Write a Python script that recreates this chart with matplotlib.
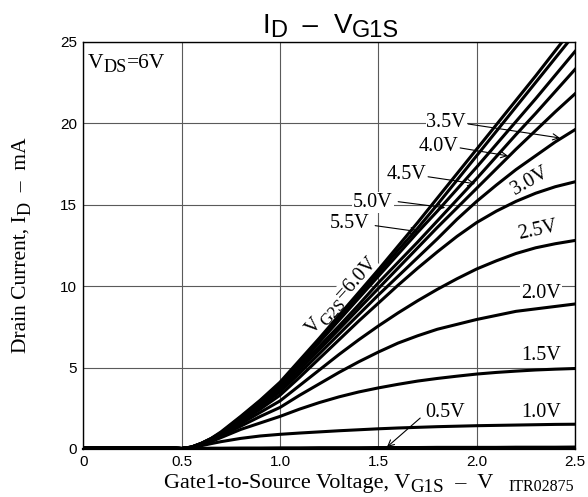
import numpy as np
import matplotlib
matplotlib.use("Agg")
import matplotlib.pyplot as plt
from matplotlib.transforms import offset_copy


# ---------------------------------------------------------
# data
# ---------------------------------------------------------
vg1s = [0, 0.45, 0.5, 0.55, 0.6, 0.65, 0.7, 0.8, 0.9,
        1.0, 1.1, 1.2, 1.3, 1.4, 1.5, 1.6, 1.7, 1.8, 1.9,
        2.0, 2.1, 2.2, 2.3, 2.4, 2.5]

id_60 = [0.06, 0.06, 0.03, 0.12, 0.35, 0.65, 1.05, 2.0, 3.0,
         4.1, 5.45, 6.8, 8.2, 9.6, 11.0, 12.45, 13.9, 15.4, 16.9,
         18.4, 19.9, 21.4, 22.9, 24.45, 26.0]
id_55 = [0.06, 0.06, 0.03, 0.12, 0.35, 0.64, 1.0, 1.95, 2.95,
         4.0, 5.3, 6.65, 8.0, 9.4, 10.8, 12.2, 13.55, 15.0, 16.5,
         18.0, 19.5, 21.0, 22.5, 24.0, 25.5]
id_50 = [0.06, 0.06, 0.03, 0.12, 0.34, 0.63, 0.98, 1.9, 2.9,
         3.9, 5.2, 6.55, 7.9, 9.25, 10.6, 11.95, 13.3, 14.6, 15.95,
         17.3, 18.7, 20.1, 21.5, 22.95, 24.4]
id_45 = [0.06, 0.06, 0.03, 0.11, 0.33, 0.62, 0.96, 1.85, 2.8,
         3.8, 5.05, 6.3, 7.55, 8.85, 10.2, 11.45, 12.7, 14.0, 15.3,
         16.6, 17.95, 19.3, 20.6, 21.95, 23.3]
id_40 = [0.06, 0.06, 0.03, 0.11, 0.32, 0.6, 0.94, 1.8, 2.7,
         3.65, 4.85, 6.1, 7.35, 8.6, 9.85, 11.1, 12.35, 13.6, 14.8,
         16.0, 17.2, 18.4, 19.55, 20.7, 21.8]
id_35 = [0.06, 0.06, 0.03, 0.11, 0.31, 0.58, 0.92, 1.72, 2.6,
         3.5, 4.65, 5.85, 7.05, 8.25, 9.45, 10.6, 11.75, 12.9, 14.1,
         15.2, 16.2, 17.15, 18.0, 18.85, 19.6]
id_30 = [0.06, 0.06, 0.03, 0.11, 0.30, 0.56, 0.9, 1.65, 2.45,
         3.3, 4.4, 5.55, 6.7, 7.85, 8.95, 10.05, 11.1, 12.1, 13.05,
         13.9, 14.6, 15.2, 15.7, 16.1, 16.4]
id_25 = [0.06, 0.06, 0.03, 0.1, 0.29, 0.54, 0.85, 1.55, 2.25,
         2.95, 3.9, 4.85, 5.8, 6.7, 7.55, 8.35, 9.1, 9.8, 10.45,
         11.05, 11.55, 12.0, 12.35, 12.6, 12.8]
id_20 = [0.06, 0.06, 0.03, 0.1, 0.28, 0.5, 0.8, 1.4, 2.0,
         2.55, 3.3, 4.0, 4.7, 5.35, 5.95, 6.5, 6.95, 7.35, 7.65,
         7.95, 8.2, 8.45, 8.6, 8.75, 8.9]
id_15 = [0.06, 0.06, 0.03, 0.1, 0.25, 0.45, 0.7, 1.2, 1.6,
         2.0, 2.45, 2.85, 3.2, 3.5, 3.75, 3.97, 4.17, 4.33, 4.47,
         4.6, 4.7, 4.78, 4.85, 4.9, 4.94]
id_10 = [0.06, 0.06, 0.03, 0.08, 0.2, 0.33, 0.45, 0.65, 0.8,
         0.9, 0.98, 1.05, 1.12, 1.18, 1.24, 1.29, 1.33, 1.37, 1.40,
         1.43, 1.45, 1.47, 1.49, 1.51, 1.52]
id_05 = [0.06, 0.06, 0.03, 0.04, 0.04, 0.05, 0.05, 0.06, 0.06,
         0.07, 0.07, 0.08, 0.08, 0.08, 0.09, 0.09, 0.09, 0.1, 0.1,
         0.1, 0.1, 0.11, 0.11, 0.11, 0.12]

curves = [id_05, id_10, id_15, id_20, id_25, id_30,
          id_35, id_40, id_45, id_50, id_55, id_60]

x_ticks = [0, 0.5, 1.0, 1.5, 2.0, 2.5]
x_tick_labels = ["0", "0.5", "1.0", "1.5", "2.0", "2.5"]
y_ticks = [0, 5, 10, 15, 20, 25]

SANS = "Liberation Sans"
SERIF = "Liberation Serif"
W, H = 588, 497

# ---------------------------------------------------------
# figure
# ---------------------------------------------------------
fig = plt.figure(figsize=(W / 100, H / 100), dpi=100)
ax = fig.add_axes([83.3 / W, 1 - 449 / H, (575 - 83.3) / W, (449 - 41.7) / H])
renderer = fig.canvas.get_renderer()

for ys in curves:
    ax.plot(vg1s, ys, color="black", lw=2.2, solid_joinstyle="round", zorder=4)

ax.set_xlim(0, 2.5)
ax.set_ylim(0, 25)
ax.set_xticks(x_ticks)
ax.set_xticklabels(x_tick_labels)
ax.set_yticks(y_ticks)
ax.tick_params(length=0, labelsize=11, pad=4.5)
for lab in ax.get_xticklabels() + ax.get_yticklabels():
    lab.set_family(SANS)
ax.grid(color="#5a5a5a", lw=0.8)
ax.set_axisbelow(True)
for sp in ax.spines.values():
    sp.set_linewidth(1.0)
ax.spines["bottom"].set_linewidth(1.6)


def fig_xy(px, py):
    return px / W, 1 - py / H


def put_runs(x, y, parts, size, family, rot=0.0, ha="left", trans=None, box=False):
    """parts: (text, baseline shift in pt, size factor); drawn one after another"""
    trans = fig.transFigure if trans is None else trans
    widths = []
    for s, _, k in parts:
        a = fig.text(0, 0, "x" + s + "x", fontsize=size * k, family=family)
        b = fig.text(0, 0, "xx", fontsize=size * k, family=family)
        widths.append(a.get_window_extent(renderer).width
                      - b.get_window_extent(renderer).width)
        a.remove()
        b.remove()
    pos = -sum(widths) / 2 if ha == "center" else 0.0
    c, sn = np.cos(np.radians(rot)), np.sin(np.radians(rot))
    k_pt = fig.dpi / 72.0
    for (s, dy, k), w in zip(parts, widths):
        ox = pos * c - dy * k_pt * sn
        oy = pos * sn + dy * k_pt * c
        tr = offset_copy(trans, fig=fig, x=ox, y=oy, units="dots")
        kw = {}
        if box:
            kw["bbox"] = dict(facecolor="white", edgecolor="none", pad=0.6)
        ax.text(x, y, s, transform=tr, fontsize=size * k, family=family,
                ha="left", va="baseline", rotation=rot,
                rotation_mode="anchor", clip_on=False, zorder=3, **kw)
        pos += w


# title
tx, ty = fig_xy(331, 33)
put_runs(tx, ty, [("I", 0, 1), ("D", -3, 0.85), ("  \u2013  ", 0, 1),
                  ("V", 0, 1), ("G1S", -3, 0.85)], 20, SANS, ha="center")

# x label
tx, ty = fig_xy(329, 488)
put_runs(tx, ty, [("Gate1-to-Source Voltage, V", 0, 1), ("G1S", -3, 0.85),
                  ("  \u2013  V", 0, 1)], 16, SERIF, ha="center")
tx, ty = fig_xy(541, 491)
ax.text(tx, ty, "ITR02875", transform=fig.transFigure, fontsize=11.5,
        family=SERIF, ha="center", va="baseline")

# y label
tx, ty = fig_xy(26, 245)
put_runs(tx, ty, [("Drain Current, I", 0, 1), ("D", -3.5, 0.85),
                  ("  \u2013  mA", 0, 1)], 15.5, SERIF, rot=90, ha="center")

# VDS note
put_runs(0.024, 23.38, [("V", 0, 1), ("DS", -3, 0.85), ("=6V", 0, 1)],
         15.5, SERIF, trans=ax.transData)

# VG2S = 6.0V label along the bundle
put_runs(1.331, 9.2, [("V", 0, 1), ("G2S", -3, 0.85), ("=6.0V", 0, 1)],
         14.5, SERIF, rot=48, ha="center", trans=ax.transData, box=True)

# curve labels
lab_kw = dict(fontsize=14.5, family=SERIF, ha="center", va="center", zorder=3,
              bbox=dict(facecolor="white", edgecolor="none", pad=0.6))
ax.text(1.845, 20.07, "3.5V", **lab_kw)
ax.text(1.804, 18.54, "4.0V", **lab_kw)
ax.text(1.641, 16.83, "4.5V", **lab_kw)
ax.text(1.473, 15.12, "5.0V", **lab_kw)
ax.text(1.356, 13.83, "5.5V", **lab_kw)
ax.text(2.272, 16.46, "3.0V", rotation=30, **lab_kw)
ax.text(2.308, 13.40, "2.5V", rotation=12, **lab_kw)
ax.text(2.328, 9.55, "2.0V", **lab_kw)
ax.text(2.328, 5.75, "1.5V", **lab_kw)
ax.text(2.328, 2.26, "1.0V", **lab_kw)
ax.text(1.840, 2.26, "0.5V", **lab_kw)

arrows = [((1.957, 19.95), (2.424, 19.09)),
          ((1.916, 18.48), (2.160, 17.99)),
          ((1.753, 16.71), (1.992, 16.28)),
          ((1.601, 15.18), (1.840, 14.81)),
          ((1.484, 13.71), (1.702, 13.34)),
          ((1.713, 1.90), (1.544, 0.12))]
for start, tip in arrows:
    ax.annotate("", xy=tip, xytext=start,
                arrowprops=dict(arrowstyle="->", lw=0.8, color="black",
                                shrinkA=0, shrinkB=0, mutation_scale=11),
                zorder=5)

fig.savefig("out.png", dpi=100)
